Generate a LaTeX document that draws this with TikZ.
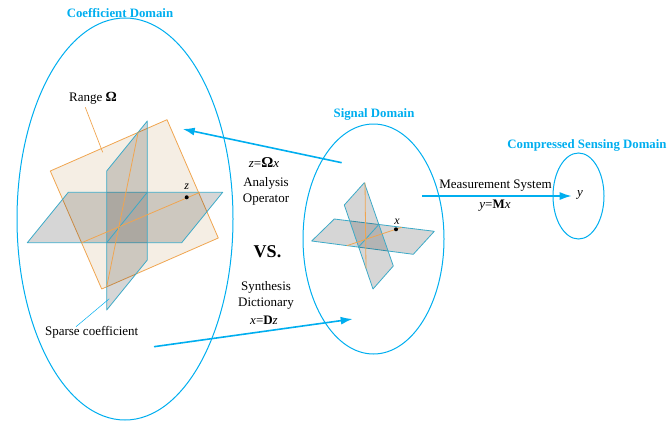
\documentclass[tikz,border=0pt]{standalone}
\usepackage{fontspec}
\setmainfont{Liberation Serif}
\usetikzlibrary{arrows.meta,shapes.geometric}
\definecolor{cy}{RGB}{0,174,239}
\definecolor{pl}{RGB}{60,170,200}
\definecolor{og}{RGB}{240,165,80}
\definecolor{ogf}{RGB}{205,170,120}
\tikzset{
  x=1pt,y=-1pt,
  domainell/.style={draw=cy,line width=1pt,ellipse,inner sep=0pt},
  titletxt/.style={text=cy,font=\bfseries\fontsize{12.8}{14}\selectfont,inner sep=0pt},
  txt/.style={font=\fontsize{13}{15.6}\selectfont,inner sep=0pt,align=center},
  bigarrow/.style={draw=cy,line width=1.6pt,-{Latex[length=12pt,width=8pt]}},
  blueplane/.style={draw=pl,line width=0.8pt,fill=black,fill opacity=0.16,line join=round},
  orangeplane/.style={draw=og,line width=0.8pt,fill=ogf,fill opacity=0.2,line join=round},
  orangeline/.style={draw=og,line width=0.8pt},
  blueline/.style={draw=pl,line width=0.8pt},
  leaderb/.style={draw=cy,line width=0.5pt},
  leadero/.style={draw=og,line width=0.7pt},
  dotm/.style={circle,fill=black,inner sep=0pt,minimum size=4pt}
}
\begin{document}
\begin{tikzpicture}
\useasboundingbox (0,0) rectangle (668,420);
% planes, coefficient domain
\path[orangeplane] (50.3,171) -- (167,119.7) -- (218.3,238) -- (101.7,289) -- cycle;
\path[blueplane] (27.3,242.7) -- (68.3,192.3) -- (222.7,192.3) -- (181.7,242.7) -- cycle;
\path[blueplane] (106.7,171) -- (147.3,121) -- (147.3,260) -- (106.7,310) -- cycle;
\coordinate (ca1) at (81.7,242.7); \coordinate (ca2) at (200,192.3);
\coordinate (cb1) at (106.7,286.7); \coordinate (cb2) at (138.3,131.7);
\coordinate (cc1) at (106.7,242.7); \coordinate (cc2) at (147.3,192.3);
\draw[blueline] (cc1) -- (cc2);
\draw[orangeline] (ca1) -- (ca2);
\draw[orangeline] (cb1) -- (cb2);
% planes, signal domain
\path[blueplane] (311.7,241) -- (334.3,219) -- (434.3,231.3) -- (413.3,254.3) -- cycle;
\path[blueplane] (344.3,205) -- (364.3,182.7) -- (393.3,266) -- (373,289) -- cycle;
\coordinate (sa1) at (346.7,245.7); \coordinate (sa2) at (401.7,227.3);
\coordinate (sb1) at (365,182.7); \coordinate (sb2) at (366,268.3);
\coordinate (sc1) at (358.3,247.3); \coordinate (sc2) at (379,224.3);
\draw[blueline] (sc1) -- (sc2);
\draw[orangeline] (sa1) -- (sa2);
\draw[orangeline] (sb1) -- (sb2);
% domains
\node[domainell,minimum width=216pt,minimum height=402pt] (coef) at (125,219) {};
\node[domainell,minimum width=141pt,minimum height=230pt] (sig) at (373.5,239) {};
\node[domainell,minimum width=51pt,minimum height=86pt] (cs) at (578.5,196) {};
% titles
\node[titletxt] (tcoef) at (120,13) {Coefficient Domain};
\node[titletxt] (tsig) at (374,114) {Signal Domain};
\node[titletxt] (tcs) at (587,145) {Compressed Sensing Domain};
% points
\node[dotm] (zp) at (186.7,197.3) {};
\node[txt,font=\fontsize{12}{12}\selectfont\itshape] (zl) at (186.7,187) {z};
\node[dotm] (xp) at (396,229.3) {};
\node[txt,font=\fontsize{12}{12}\selectfont\itshape] (xl) at (397,221.5) {x};
\node[txt,font=\fontsize{13}{13}\selectfont\itshape] (yl) at (580,194.5) {y};
% labels
\node[txt] (range) at (93,98.5) {Range {\fontsize{14}{14}\selectfont\bfseries Ω}};
\coordinate (r1) at (85.3,107.3); \coordinate (r2) at (102.7,152.3);
\draw[leadero] (r1) -- (r2);
\node[txt] (sparse) at (91.7,332.5) {Sparse coefficient};
\coordinate (s1) at (76,326.7); \coordinate (s2) at (109.3,298.7);
\draw[leaderb] (s1) -- (s2);
\node[txt] (zeq) at (264,163) {\textit{z}=\textbf{\fontsize{15}{15}\selectfont Ω}\textit{x}};
\node[txt] (ana) at (266,191.5) {Analysis\\Operator};
\node[txt,font=\bfseries\fontsize{18}{20}\selectfont] (vs) at (267.5,252) {VS.};
\node[txt] (syn) at (266,295.5) {Synthesis\\Dictionary};
\node[txt] (xeq) at (264,320.5) {\textit{x}=\textbf{D}\textit{z}};
\node[txt] (meas) at (495.5,186) {Measurement System};
\node[txt] (yeq) at (495,206) {\textit{y}=\textbf{M}\textit{x}};
% arrows
\coordinate (aa1) at (341.7,162.7); \coordinate (aa2) at (182.7,129);
\coordinate (ab1) at (154,346.7); \coordinate (ab2) at (352.7,319);
\coordinate (ac1) at (422,196); \coordinate (ac2) at (571.7,196);
\draw[bigarrow] (aa1) -- (aa2);
\draw[bigarrow] (ab1) -- (ab2);
\draw[bigarrow] (ac1) -- (ac2);
\end{tikzpicture}
\end{document}
